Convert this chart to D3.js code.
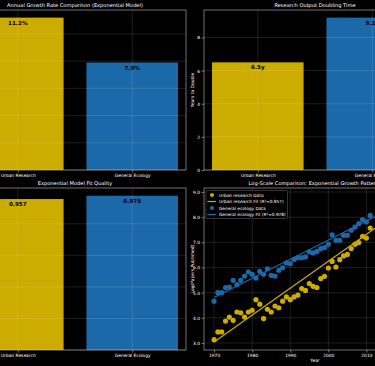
<!DOCTYPE html>
<html><head><meta charset="utf-8">
<script src="https://cdn.jsdelivr.net/npm/d3@7"></script>
<style>
html,body{margin:0;padding:0;background:#000;}
svg{display:block;font-family:"DejaVu Sans",sans-serif;}
</style></head>
<body><svg id="chart" width="375" height="366"></svg>
<script>
const categories = ["Urban Research", "General Ecology"];
const growthRates = [11.2, 7.9];
const doublingTimes = [6.5, 9.2];
const rSquared = [0.957, 0.978];
const years = [1970,1971,1972,1973,1974,1975,1976,1977,1978,1979,1980,1981,1982,1983,1984,1985,1986,1987,1988,1989,1990,1991,1992,1993,1994,1995,1996,1997,1998,1999,2000,2001,2002,2003,2004,2005,2006,2007,2008,2009,2010,2011];
const urbanLog = [3.13,3.44,3.44,3.87,4.03,3.90,4.23,4.20,4.03,4.23,4.30,4.72,4.54,3.97,4.34,4.23,4.47,4.40,4.66,4.83,4.72,4.83,4.90,5.16,5.09,5.36,5.25,5.20,5.56,5.65,5.98,6.24,6.02,6.31,6.46,6.52,6.75,6.92,6.99,7.24,7.17,7.57];
const ecologyLog = [4.66,5.00,5.00,5.20,5.22,5.49,5.32,5.49,5.66,5.82,5.73,5.58,5.85,5.73,5.95,5.69,5.66,5.89,5.99,6.18,6.15,6.32,6.39,6.39,6.42,6.62,6.58,6.64,6.75,6.79,6.92,7.30,7.08,7.08,7.28,7.28,7.48,7.61,7.74,7.90,7.81,8.07];
const urbanFit = [3.04, 0.107];    // value at 1970, slope per year
const ecologyFit = [4.81, 0.076];
const fitYears = [1970, 2023];
const growthTicks = [0,2,4,6,8,10];
const doublingTicks = [0,2,4,6,8];
const r2Ticks = [0,0.2,0.4,0.6,0.8];
const logTicks = [3,4,5,6,7,8,9];
const yearTicks = [1970,1980,1990,2000,2010];

const GOLD = "#ccac00", BLUE = "#1c69aa";
const colors = [GOLD, BLUE];
const svg = d3.select("#chart");
svg.append("rect").attr("width",375).attr("height",366).attr("fill","#000");

const GRID = "rgba(255,255,255,0.2)";
const SPINE = "#bdbdbd";

function styleAxis(g){
  g.selectAll(".domain").remove();
  g.selectAll(".tick line").attr("stroke",SPINE).attr("stroke-width",0.6);
  g.selectAll(".tick text").attr("fill","#fff").attr("font-size",4.4).attr("font-family","DejaVu Sans");
}

function barPanel(box, values, domainMax, ticks, title, fmt, ylabel, showYLabels){
  const x = d3.scaleLinear().domain([-0.47,1.47]).range([box.l, box.r]);
  const y = d3.scaleLinear().domain([0, domainMax]).range([box.b, box.t]);
  const g = svg.append("g");
  g.selectAll("rect.bar").data(values).join("rect")
    .attr("x",(d,i)=>x(i-0.4)).attr("width",(d,i)=>x(i+0.4)-x(i-0.4))
    .attr("y",d=>y(d)).attr("height",d=>y(0)-y(d))
    .attr("fill",(d,i)=>colors[i]);
  g.selectAll("line.hg").data(ticks).join("line")
    .attr("x1",box.l).attr("x2",box.r).attr("y1",d=>y(d)).attr("y2",d=>y(d))
    .attr("stroke",GRID).attr("stroke-width",0.6);
  g.selectAll("line.vg").data(categories).join("line")
    .attr("x1",(d,i)=>x(i)).attr("x2",(d,i)=>x(i)).attr("y1",box.t).attr("y2",box.b)
    .attr("stroke",GRID).attr("stroke-width",0.6);
  g.selectAll("text.val").data(values).join("text")
    .attr("x",(d,i)=>x(i)).attr("y",d=>y(d)+7)
    .attr("text-anchor","middle").attr("font-size",5.6).attr("font-weight","bold")
    .attr("fill","#000").text(fmt);
  g.append("rect").attr("x",box.l).attr("y",box.t).attr("width",box.r-box.l).attr("height",box.b-box.t)
    .attr("fill","none").attr("stroke",SPINE).attr("stroke-width",0.6);
  if(showYLabels){
    const ax = g.append("g").attr("transform",`translate(${box.l},0)`)
      .call(d3.axisLeft(y).tickValues(ticks).tickSize(2.5).tickPadding(1.5).tickFormat(d3.format("~g")));
    styleAxis(ax);
  }
  const bx = g.append("g").attr("transform",`translate(0,${box.b})`)
    .call(d3.axisBottom(x).tickValues([0,1]).tickSize(2.5).tickPadding(1.5).tickFormat(i=>categories[i]));
  styleAxis(bx);
  g.append("text").attr("x",(box.l+box.r)/2).attr("y",box.t-3)
    .attr("text-anchor","middle").attr("font-size",5.1).attr("fill","#fff").text(title);
  if(ylabel){
    g.append("text").attr("transform",`translate(${box.l-10},${(box.t+box.b)/2}) rotate(-90)`)
      .attr("text-anchor","middle").attr("font-size",4.4).attr("fill","#fff").text(ylabel);
  }
}

barPanel({l:-36,r:186,t:10,b:170}, growthRates, 11.76, growthTicks,
  "Annual Growth Rate Comparison (Exponential Model)", d=>d.toFixed(1)+"%", "", false);
barPanel({l:204,r:426,t:10,b:170}, doublingTimes, 9.66, doublingTicks,
  "Research Output Doubling Time", d=>d.toFixed(1)+"y", "Years to Double", true);
barPanel({l:-36,r:186,t:188,b:350}, rSquared, 1.027, r2Ticks,
  "Exponential Model Fit Quality", d=>d.toFixed(3), "", false);

(function(){
  const box = {l:204,r:426,t:188,b:350};
  const x = d3.scaleLinear().domain([1967.35,2025.65]).range([box.l,box.r]);
  const y = d3.scaleLinear().domain([2.72,9.16]).range([box.b,box.t]);
  const g = svg.append("g");
  svg.append("clipPath").attr("id","clipS").append("rect")
    .attr("x",box.l).attr("y",box.t).attr("width",box.r-box.l).attr("height",box.b-box.t);
  g.selectAll("line.hg").data(logTicks).join("line")
    .attr("x1",box.l).attr("x2",box.r).attr("y1",d=>y(d)).attr("y2",d=>y(d))
    .attr("stroke",GRID).attr("stroke-width",0.6);
  g.selectAll("line.vg").data(yearTicks).join("line")
    .attr("x1",d=>x(d)).attr("x2",d=>x(d)).attr("y1",box.t).attr("y2",box.b)
    .attr("stroke",GRID).attr("stroke-width",0.6);
  const series = [
    {vals:urbanLog, fit:urbanFit, color:GOLD},
    {vals:ecologyLog, fit:ecologyFit, color:BLUE}
  ];
  const pg = g.append("g").attr("clip-path","url(#clipS)");
  series.forEach(s=>{
    pg.append("g").selectAll("circle").data(s.vals).join("circle")
      .attr("cx",(d,i)=>x(years[i])).attr("cy",d=>y(d)).attr("r",2.6)
      .attr("fill",s.color);
    pg.append("line")
      .attr("x1",x(fitYears[0])).attr("y1",y(s.fit[0]))
      .attr("x2",x(fitYears[1])).attr("y2",y(s.fit[0]+s.fit[1]*(fitYears[1]-fitYears[0])))
      .attr("stroke",s.color).attr("stroke-width",1.2);
  });
  g.append("rect").attr("x",box.l).attr("y",box.t).attr("width",box.r-box.l).attr("height",box.b-box.t)
    .attr("fill","none").attr("stroke",SPINE).attr("stroke-width",0.6);
  const ax = g.append("g").attr("transform",`translate(${box.l},0)`)
    .call(d3.axisLeft(y).tickValues(logTicks).tickSize(2.5).tickPadding(1.5));
  styleAxis(ax);
  const bx = g.append("g").attr("transform",`translate(0,${box.b})`)
    .call(d3.axisBottom(x).tickValues(yearTicks).tickSize(2.5).tickPadding(1.5).tickFormat(d3.format("d")));
  styleAxis(bx);
  g.append("text").attr("x",(box.l+box.r)/2).attr("y",box.t-3)
    .attr("text-anchor","middle").attr("font-size",5.1).attr("fill","#fff")
    .text("Log-Scale Comparison: Exponential Growth Patterns");
  g.append("text").attr("x",(box.l+box.r)/2).attr("y",box.b+11.5)
    .attr("text-anchor","middle").attr("font-size",4.4).attr("fill","#fff").text("Year");
  g.append("text").attr("transform",`translate(${box.l-10},${(box.t+box.b)/2}) rotate(-90)`)
    .attr("text-anchor","middle").attr("font-size",4.4).attr("fill","#fff").text("Log(Papers Published)");
  const leg = g.append("g");
  leg.append("rect").attr("x",206).attr("y",190.5).attr("width",81.5).attr("height",28)
    .attr("rx",1).attr("fill","#000").attr("fill-opacity",0.8).attr("stroke","#666").attr("stroke-width",0.5);
  const entries = [
    {label:"Urban research Data", color:GOLD, type:"dot"},
    {label:"Urban research Fit (R²="+rSquared[0].toFixed(3)+")", color:GOLD, type:"line"},
    {label:"General ecology Data", color:BLUE, type:"dot"},
    {label:"General ecology Fit (R²="+rSquared[1].toFixed(3)+")", color:BLUE, type:"line"}
  ];
  entries.forEach((e,i)=>{
    const yy = 195 + i*6.5;
    if(e.type==="dot"){
      leg.append("circle").attr("cx",212).attr("cy",yy).attr("r",2).attr("fill",e.color);
    } else {
      leg.append("line").attr("x1",207.5).attr("x2",216).attr("y1",yy).attr("y2",yy)
        .attr("stroke",e.color).attr("stroke-width",1.2);
    }
    leg.append("text").attr("x",219).attr("y",yy+1.5).attr("font-size",4.3).attr("fill","#fff").text(e.label);
  });
})();
</script></body></html>
